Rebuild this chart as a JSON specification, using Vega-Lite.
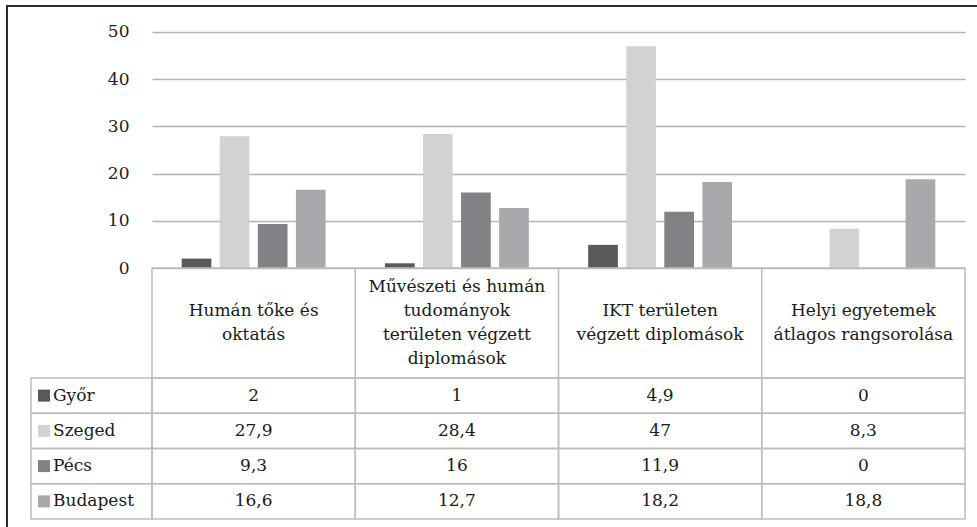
{
  "$schema": "https://vega.github.io/schema/vega-lite/v6.json",
  "padding": {"left": 6, "top": 5, "right": 0, "bottom": 0},
  "columns": 3,
  "spacing": 0,
  "bounds": "flush",
  "datasets": {
    "bars": [
      {"category": "Humán tőke és oktatás", "series": "Győr", "value": 2},
      {"category": "Humán tőke és oktatás", "series": "Szeged", "value": 27.9},
      {"category": "Humán tőke és oktatás", "series": "Pécs", "value": 9.3},
      {"category": "Humán tőke és oktatás", "series": "Budapest", "value": 16.6},
      {"category": "Művészeti és humán tudományok területen végzett diplomások", "series": "Győr", "value": 1},
      {"category": "Művészeti és humán tudományok területen végzett diplomások", "series": "Szeged", "value": 28.4},
      {"category": "Művészeti és humán tudományok területen végzett diplomások", "series": "Pécs", "value": 16},
      {"category": "Művészeti és humán tudományok területen végzett diplomások", "series": "Budapest", "value": 12.7},
      {"category": "IKT területen végzett diplomások", "series": "Győr", "value": 4.9},
      {"category": "IKT területen végzett diplomások", "series": "Szeged", "value": 47},
      {"category": "IKT területen végzett diplomások", "series": "Pécs", "value": 11.9},
      {"category": "IKT területen végzett diplomások", "series": "Budapest", "value": 18.2},
      {"category": "Helyi egyetemek átlagos rangsorolása", "series": "Győr", "value": 0},
      {"category": "Helyi egyetemek átlagos rangsorolása", "series": "Szeged", "value": 8.3},
      {"category": "Helyi egyetemek átlagos rangsorolása", "series": "Pécs", "value": 0},
      {"category": "Helyi egyetemek átlagos rangsorolása", "series": "Budapest", "value": 18.8}
    ],
    "cats": [
      {"category": "Humán tőke és oktatás", "label": "Humán tőke és\noktatás"},
      {"category": "Művészeti és humán tudományok területen végzett diplomások", "label": "Művészeti és humán\ntudományok\nterületen végzett\ndiplomások"},
      {"category": "IKT területen végzett diplomások", "label": "IKT területen\nvégzett diplomások"},
      {"category": "Helyi egyetemek átlagos rangsorolása", "label": "Helyi egyetemek\nátlagos rangsorolása"}
    ],
    "series": [
      {"series": "Győr"}, {"series": "Szeged"}, {"series": "Pécs"}, {"series": "Budapest"}
    ]
  },
  "concat": [
    {
      "width": 145, "height": 262,
      "data": {"values": [{}]},
      "mark": {"type": "text"},
      "encoding": {"text": {"value": ""}},
      "view": {"stroke": "#2b2b2b", "strokeWidth": 2, "strokeDash": [145, 407, 262]}
    },
    {
      "width": 813, "height": 262,
      "data": {"name": "bars"},
      "mark": {"type": "bar"},
      "view": {"stroke": "#2b2b2b", "strokeWidth": 2, "strokeDash": [813, 1337]},
      "encoding": {
        "x": {"field": "category", "type": "nominal", "axis": null,
              "scale": {"domain": ["Humán tőke és oktatás", "Művészeti és humán tudományok területen végzett diplomások", "IKT területen végzett diplomások", "Helyi egyetemek átlagos rangsorolása"], "paddingInner": 0, "paddingOuter": 0}},
        "xOffset": {"field": "series", "type": "nominal",
              "scale": {"domain": ["Győr", "Szeged", "Pécs", "Budapest"], "paddingInner": 0.22, "paddingOuter": 0.78}},
        "y": {"field": "value", "type": "quantitative",
              "scale": {"domain": [0, 55.5], "nice": false, "zero": true},
              "axis": {"values": [0, 10, 20, 30, 40, 50], "grid": true, "gridColor": "#b3b3b3", "gridWidth": 1.5,
                       "domain": false, "ticks": false, "labelPadding": 23, "labelFont": "DejaVu Serif",
                       "labelFontSize": 17, "labelColor": "#222222", "title": null}},
        "color": {"field": "series", "type": "nominal", "legend": null,
                  "scale": {"domain": ["Győr", "Szeged", "Pécs", "Budapest"], "range": ["#58595b", "#d1d2d4", "#808285", "#a7a9ac"]}}
      }
    },
    {
      "width": 13, "height": 262,
      "data": {"values": [{}]},
      "mark": {"type": "text"},
      "encoding": {"text": {"value": ""}},
      "view": {"stroke": "#2b2b2b", "strokeWidth": 2, "strokeDash": [13, 537]}
    },
    {
      "width": 145, "height": 110,
      "data": {"values": [{}]},
      "mark": {"type": "text"},
      "encoding": {"text": {"value": ""}},
      "view": {"stroke": "#2b2b2b", "strokeWidth": 2, "strokeDash": [0, 400, 110]}
    },
    {
      "width": 813, "height": 110,
      "data": {"name": "cats"},
      "view": {"stroke": "#bdbdbd", "strokeWidth": 1.5},
      "layer": [
        {
          "transform": [{"filter": "datum.category != 'Humán tőke és oktatás'"}],
          "mark": {"type": "rule", "color": "#bdbdbd", "strokeWidth": 1.5},
          "encoding": {
            "x": {"field": "category", "type": "nominal", "bandPosition": 0, "axis": null,
                  "scale": {"domain": ["Humán tőke és oktatás", "Művészeti és humán tudományok területen végzett diplomások", "IKT területen végzett diplomások", "Helyi egyetemek átlagos rangsorolása"], "paddingInner": 0, "paddingOuter": 0}}
          }
        },
        {
          "mark": {"type": "text", "lineBreak": "\n", "lineHeight": 24, "fontSize": 17, "font": "DejaVu Serif", "align": "center", "baseline": "middle", "color": "#1a1a1a",
                   "dy": {"expr": "-(length(split(datum.label, '\\n')) - 1) * 12"}},
          "encoding": {
            "x": {"field": "category", "type": "nominal", "axis": null},
            "text": {"field": "label"}
          }
        }
      ]
    },
    {
      "width": 13, "height": 110,
      "data": {"values": [{}]},
      "mark": {"type": "text"},
      "encoding": {"text": {"value": ""}}
    },
    {
      "width": 145, "height": 150,
      "data": {"name": "series"},
      "view": {"stroke": "#2b2b2b", "strokeWidth": 2, "strokeDash": [0, 440, 150]},
      "encoding": {
        "y": {"field": "series", "type": "nominal", "axis": null,
              "scale": {"domain": ["Győr", "Szeged", "Pécs", "Budapest"], "paddingInner": 0, "paddingOuter": 0.1277, "align": 0}}
      },
      "layer": [
        {
          "mark": {"type": "rect", "fill": null, "stroke": "#bdbdbd", "strokeWidth": 1.5},
          "encoding": {
            "x": {"datum": "L", "type": "nominal", "axis": null,
                  "scale": {"domain": ["L"], "paddingInner": 0, "paddingOuter": 0.0992, "align": 1}}
          }
        },
        {
          "mark": {"type": "point", "shape": "square", "size": 144, "filled": true, "opacity": 1, "xOffset": 13},
          "encoding": {
            "x": {"datum": "L", "type": "nominal", "bandPosition": 0},
            "color": {"field": "series", "type": "nominal", "legend": null,
                      "scale": {"domain": ["Győr", "Szeged", "Pécs", "Budapest"], "range": ["#58595b", "#d1d2d4", "#808285", "#a7a9ac"]}}
          }
        },
        {
          "mark": {"type": "text", "align": "left", "baseline": "middle", "dx": 22, "fontSize": 17, "font": "DejaVu Serif", "color": "#1a1a1a"},
          "encoding": {
            "x": {"datum": "L", "type": "nominal", "bandPosition": 0},
            "text": {"field": "series"}
          }
        }
      ]
    },
    {
      "width": 813, "height": 150,
      "data": {"name": "bars"},
      "encoding": {
        "x": {"field": "category", "type": "nominal", "axis": null,
              "scale": {"domain": ["Humán tőke és oktatás", "Művészeti és humán tudományok területen végzett diplomások", "IKT területen végzett diplomások", "Helyi egyetemek átlagos rangsorolása"], "paddingInner": 0, "paddingOuter": 0}},
        "y": {"field": "series", "type": "nominal", "axis": null,
              "scale": {"domain": ["Győr", "Szeged", "Pécs", "Budapest"], "paddingInner": 0, "paddingOuter": 0.1277, "align": 0}}
      },
      "layer": [
        {
          "mark": {"type": "rect", "fill": null, "stroke": "#bdbdbd", "strokeWidth": 1.5}
        },
        {
          "mark": {"type": "text", "align": "center", "baseline": "middle", "fontSize": 17, "font": "DejaVu Serif", "color": "#1a1a1a"},
          "encoding": {"text": {"field": "value", "type": "quantitative", "format": ".1~f"}}
        }
      ]
    },
    {
      "width": 13, "height": 150,
      "data": {"values": [{}]},
      "mark": {"type": "text"},
      "encoding": {"text": {"value": ""}}
    }
  ],
  "config": {
    "font": "DejaVu Serif",
    "view": {"stroke": null},
    "locale": {"number": {"decimal": ",", "thousands": " ", "grouping": [3], "currency": ["", " Ft"]}}
  }
}
